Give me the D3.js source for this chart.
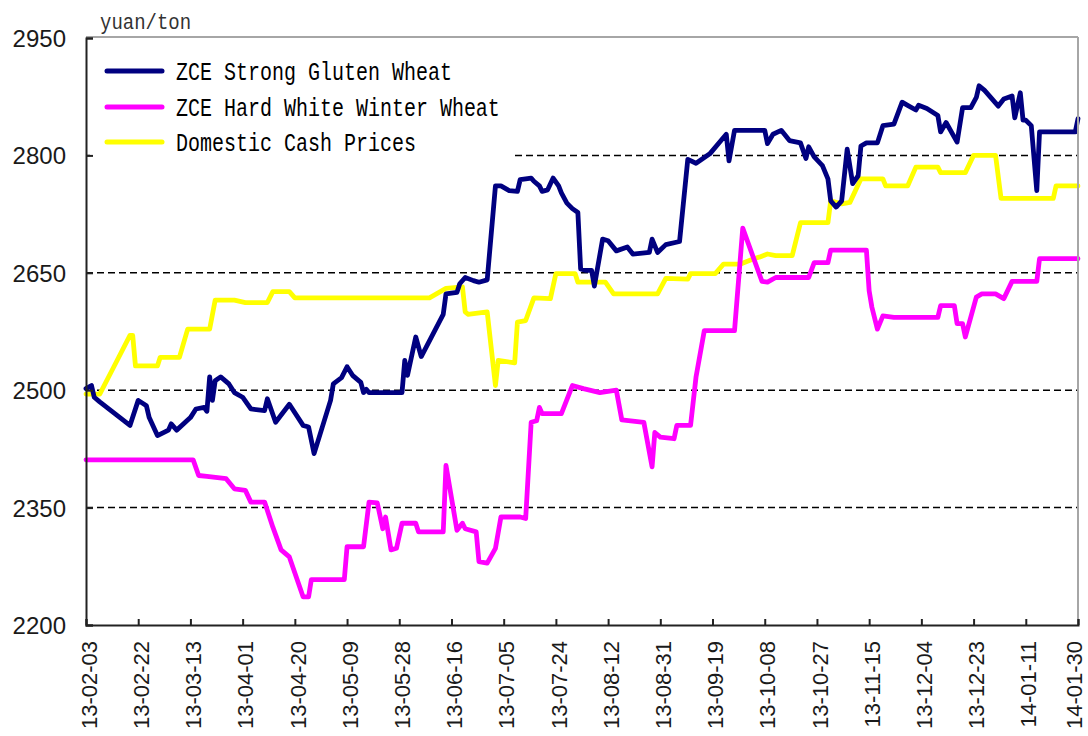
<!DOCTYPE html>
<html><head><meta charset="utf-8">
<script src="https://cdn.jsdelivr.net/npm/d3@7"></script>
<style>body{margin:0;background:#fff;} svg{display:block;}</style>
</head><body>
<svg id="chart" width="1088" height="736"></svg>
<script>
// ---------- DATA ----------
const startDate = "2013-02-03";
const endDate = "2014-01-30";
const unitLabel = "yuan/ton";
const seriesNames = ["ZCE Strong Gluten Wheat", "ZCE Hard White Winter Wheat", "Domestic Cash Prices"];
const tickLabels = ["13-02-03","13-02-22","13-03-13","13-04-01","13-04-20","13-05-09","13-05-28","13-06-16","13-07-05","13-07-24","13-08-12","13-08-31","13-09-19","13-10-08","13-10-27","13-11-15","13-12-04","13-12-23","14-01-11","14-01-30"];
const yTicks = [2200, 2350, 2500, 2650, 2800, 2950];
const gridValues = [2350, 2500, 2650, 2800];

// days after startDate
const strongDays = [0,2,3,5,16,19,22,23,26,30,31,33,38,40,43,44,45,46,47,49,52,54,57,60,65,66,69,74,79,81,83,89,90,93,95,97,100,101,102,103,115,116,117,120,122,130,131,135,136,138,141,143,146,149,151,154,157,158,162,163,165,166,168,170,172,173,175,177,179,180,182,184,185,188,190,193,197,199,205,206,208,211,216,219,222,227,233,234,236,247,248,250,253,256,260,262,263,265,268,270,271,273,275,277,279,281,282,284,288,290,294,297,299,302,303,306,310,311,313,317,319,322,324,325,327,332,334,337,338,340,341,342,344,346,347,360,361];
const strongValues = [2502,2506,2491,2485,2455,2487,2480,2465,2442,2449,2457,2449,2465,2476,2478,2473,2517,2487,2512,2517,2508,2497,2491,2476,2474,2489,2459,2482,2455,2453,2419,2487,2508,2516,2530,2519,2510,2497,2501,2497,2497,2538,2519,2568,2543,2597,2623,2625,2636,2644,2640,2638,2641,2761,2761,2755,2754,2769,2771,2767,2761,2754,2756,2771,2761,2752,2739,2732,2727,2655,2653,2653,2633,2693,2691,2678,2683,2674,2676,2693,2676,2686,2690,2795,2790,2802,2827,2793,2832,2832,2815,2827,2832,2819,2816,2796,2811,2798,2787,2770,2742,2734,2742,2808,2764,2774,2812,2816,2816,2838,2840,2868,2864,2858,2864,2860,2851,2830,2842,2817,2861,2861,2874,2889,2883,2863,2872,2876,2848,2880,2845,2845,2838,2755,2830,2830,2847];

const hardDays = [0,39,41,44,51,54,58,60,65,68,71,74,79,81,82,94,95,101,103,106,108,109,111,113,115,120,121,130,131,135,137,138,142,143,146,149,151,158,160,162,164,165,166,173,177,181,187,193,195,203,206,207,209,214,215,220,222,225,236,239,246,248,251,263,265,270,271,284,285,286,288,290,294,310,311,316,317,319,320,324,326,331,334,337,346,347,361];
const hardValues = [2411,2411,2391,2390,2387,2374,2372,2357,2357,2325,2296,2287,2236,2236,2258,2258,2300,2300,2357,2356,2323,2338,2296,2298,2330,2330,2319,2319,2404,2321,2330,2323,2319,2281,2279,2298,2338,2338,2336,2459,2461,2478,2470,2470,2506,2502,2497,2500,2462,2459,2402,2446,2440,2438,2455,2455,2517,2576,2576,2707,2639,2638,2644,2644,2663,2663,2679,2679,2627,2606,2578,2595,2593,2593,2608,2608,2585,2585,2568,2619,2623,2623,2617,2639,2639,2668,2668];

const cashDays = [0,5,10,16,17,18,26,27,34,37,45,47,54,58,66,68,74,76,125,131,137,138,139,146,149,150,156,157,160,163,169,171,178,179,189,192,208,211,219,220,229,232,238,243,245,248,251,257,260,270,271,275,278,282,290,291,299,302,310,311,320,323,331,333,352,353,361];
const cashValues = [2495,2495,2529,2570,2570,2531,2531,2542,2542,2578,2578,2615,2615,2612,2612,2626,2626,2618,2618,2630,2632,2600,2597,2600,2506,2538,2535,2587,2589,2618,2617,2649,2649,2638,2638,2623,2623,2643,2642,2649,2649,2661,2661,2668,2670,2674,2672,2672,2714,2714,2742,2738,2740,2770,2770,2761,2761,2785,2785,2778,2778,2800,2800,2745,2745,2761,2761];

const seriesColors = ["#000080", "#FF00FF", "#FFFF00"];

// ---------- CHART ----------
const svg = d3.select("#chart");
const plotL = 86, plotR = 1078, plotT = 38, plotB = 625;
const parseISO = d3.utcParse("%Y-%m-%d");
const parseTick = d3.utcParse("%y-%m-%d");
const t0 = parseISO(startDate), t1 = parseISO(endDate);

const x = d3.scaleUtc().domain([t0, t1]).range([plotL, plotR]);
const y = d3.scaleLinear().domain([2200, 2950]).range([plotB, plotT]);

function toPoints(days, vals) {
  return days.map((d, i) => ({date: d3.utcDay.offset(t0, d), value: vals[i]}));
}
const series = [
  {name: seriesNames[0], color: seriesColors[0], pts: toPoints(strongDays, strongValues)},
  {name: seriesNames[1], color: seriesColors[1], pts: toPoints(hardDays, hardValues)},
  {name: seriesNames[2], color: seriesColors[2], pts: toPoints(cashDays, cashValues)}
];

// gridlines
svg.append("g").selectAll("line").data(gridValues).join("line")
  .attr("x1", plotL).attr("x2", plotR)
  .attr("y1", d => y(d)).attr("y2", d => y(d))
  .attr("stroke", "#000").attr("stroke-width", 1.5)
  .attr("stroke-dasharray", "7,4");

// legend background (hides part of the 2800 gridline)
svg.append("rect").attr("x", plotL + 4).attr("y", plotT + 6)
  .attr("width", 512 - plotL - 4).attr("height", 126).attr("fill", "#fff");

// lines
const line = d3.line().x(d => x(d.date)).y(d => y(d.value));
const drawOrder = [2, 1, 0];
drawOrder.forEach(i => {
  svg.append("path").datum(series[i].pts)
    .attr("d", line).attr("fill", "none")
    .attr("stroke", series[i].color).attr("stroke-width", 4.8)
    .attr("stroke-linejoin", "round").attr("stroke-linecap", "round");
});

// border: top & right grey
svg.append("line").attr("x1", plotL).attr("x2", plotR).attr("y1", plotT - 1).attr("y2", plotT - 1)
  .attr("stroke", "#a6a6a6").attr("stroke-width", 2);
svg.append("line").attr("x1", plotR).attr("x2", plotR).attr("y1", plotT - 1).attr("y2", plotB)
  .attr("stroke", "#a6a6a6").attr("stroke-width", 2);

// Y axis
const yAxis = d3.axisLeft(y).tickValues(yTicks).tickSize(-7).tickPadding(20).tickFormat(d3.format("d"));
const gy = svg.append("g").attr("transform", `translate(${plotL},0)`).call(yAxis);
gy.select(".domain").attr("stroke", "#222").attr("stroke-width", 2);
gy.selectAll(".tick line").attr("stroke", "#222").attr("stroke-width", 2);
gy.selectAll(".tick text").attr("font-family", "'Liberation Sans', Arial, sans-serif")
  .attr("font-size", 24).attr("fill", "#1a1a1a").attr("x", 66 - plotL).attr("dy", "0.35em");

// X axis
const tickDates = tickLabels.map(parseTick);
const xAxis = d3.axisBottom(x).tickValues(tickDates).tickSize(-6).tickFormat(() => "");
const gx = svg.append("g").attr("transform", `translate(0,${plotB})`).call(xAxis);
gx.select(".domain").attr("stroke", "#222").attr("stroke-width", 2);
gx.selectAll(".tick line").attr("stroke", "#222").attr("stroke-width", 2);

svg.append("g").selectAll("text").data(tickDates).join("text")
  .attr("transform", (d) => `translate(${Math.min(x(d) + 3, 1074)},${plotB + 16}) rotate(-90)`)
  .attr("text-anchor", "end").attr("dy", "0.35em")
  .attr("font-family", "'Liberation Sans', Arial, sans-serif")
  .attr("font-size", 22).attr("fill", "#1a1a1a")
  .text((d, i) => tickLabels[i]);

// unit label
svg.append("text").attr("transform", "translate(100,29) scale(1,1.2)")
  .attr("font-family", "'Liberation Mono', 'DejaVu Sans Mono', monospace")
  .attr("font-size", 19).attr("fill", "#333").text(unitLabel);

// legend
const rowsY = [71, 107, 142];
series.forEach((s, i) => {
  svg.append("line").attr("x1", 107).attr("x2", 162)
    .attr("y1", rowsY[i]).attr("y2", rowsY[i])
    .attr("stroke", s.color).attr("stroke-width", 5).attr("stroke-linecap", "round");
  svg.append("text").attr("transform", `translate(176,${rowsY[i] + 9}) scale(1,1.25)`)
    .attr("font-family", "'Liberation Mono', 'DejaVu Sans Mono', monospace")
    .attr("font-size", 20).attr("fill", "#000").text(s.name);
});
</script>
</body></html>
